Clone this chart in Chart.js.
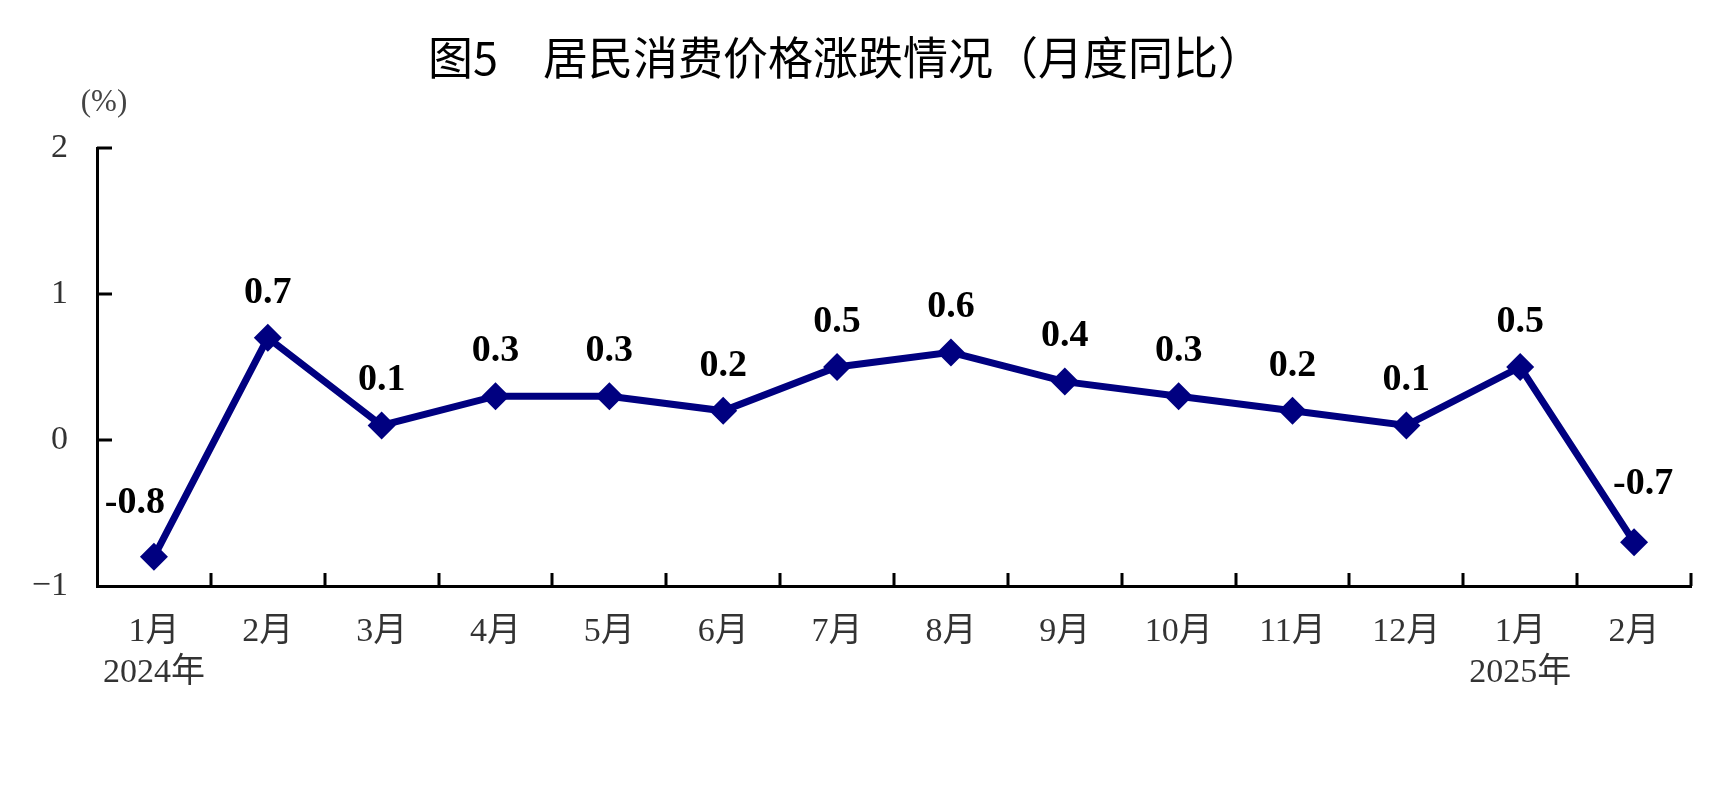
<!DOCTYPE html>
<html>
<head>
<meta charset="utf-8">
<script src="https://cdn.jsdelivr.net/npm/chart.js@4"></script>
<style>
  html, body { margin: 0; padding: 0; background: #fff; }
  #wrap { width: 1734px; height: 805px; position: relative; }
</style>
</head>
<body>
<div id="wrap"><canvas id="cpi"></canvas></div>
<script>
// 居民消费价格 月度同比 (%)
const titleText = '图5\u3000居民消费价格涨跌情况（月度同比）';
const unitText = '(%)';
const months = [
  ['1月', '2024年'], '2月', '3月', '4月', '5月', '6月', '7月',
  '8月', '9月', '10月', '11月', '12月', ['1月', '2025年'], '2月'
];
const cpiValues = [-0.8, 0.7, 0.1, 0.3, 0.3, 0.2, 0.5, 0.6, 0.4, 0.3, 0.2, 0.1, 0.5, -0.7];
const yTicks = [-1, 0, 1, 2];

const serif = '"Liberation Serif", "DejaVu Serif", "Noto Sans CJK SC", serif';
const sans = '"Noto Sans CJK SC", "Noto Sans", sans-serif';

// 标题、单位、刻度线和数据标签
const decorations = {
  id: 'decorations',
  afterDraw(chart) {
    const { ctx, chartArea } = chart;
    const x = chart.scales.x;
    const y = chart.scales.y;
    ctx.save();

    ctx.fillStyle = '#000';
    ctx.font = '45px ' + sans;
    ctx.textAlign = 'left';
    ctx.textBaseline = 'middle';
    ctx.fillText(titleText, 428, 58);

    ctx.fillStyle = '#444';
    ctx.font = '31px ' + serif;
    ctx.textAlign = 'center';
    ctx.fillText(unitText, 104, 103);

    // 向内的刻度线
    ctx.strokeStyle = '#000';
    ctx.lineWidth = 3;
    ctx.beginPath();
    yTicks.forEach(v => {
      if (v === y.min) return;
      const py = Math.round(y.getPixelForValue(v));
      ctx.moveTo(chartArea.left, py);
      ctx.lineTo(chartArea.left + 15, py);
    });
    for (let i = 1; i <= months.length; i++) {
      const px = Math.round(x.getPixelForValue(i - 0.5));
      ctx.moveTo(px, chartArea.bottom);
      ctx.lineTo(px, chartArea.bottom - 13);
    }
    ctx.stroke();

    // 数据标签
    const meta = chart.getDatasetMeta(0);
    ctx.fillStyle = '#000';
    ctx.font = 'bold 38px ' + serif;
    ctx.textAlign = 'center';
    meta.data.forEach((pt, i) => {
      let dx = 0, dy = -45;
      if (i === 0) { dx = -19; dy = -54; }
      if (i === meta.data.length - 1) { dx = 9; dy = -58; }
      ctx.fillText(cpiValues[i].toFixed(1), pt.x + dx, pt.y + dy);
    });
    ctx.restore();
  }
};

new Chart(document.getElementById('cpi'), {
  type: 'line',
  data: {
    labels: months,
    datasets: [{
      data: cpiValues,
      borderColor: '#000080',
      backgroundColor: '#000080',
      borderWidth: 7,
      pointStyle: 'rectRot',
      pointRadius: 14,
      pointBorderWidth: 0,
      tension: 0
    }]
  },
  options: {
    responsive: true,
    maintainAspectRatio: false,
    animation: false,
    layout: { padding: { top: 148, right: 43, left: 0, bottom: 0 } },
    plugins: {
      legend: { display: false },
      title: { display: false },
      tooltip: { enabled: false }
    },
    scales: {
      x: {
        offset: true,
        grid: { display: false, drawTicks: false },
        border: { display: true, color: '#000', width: 3 },
        ticks: {
          color: '#333',
          font: { family: serif, size: 34 },
          padding: 26,
          maxRotation: 0,
          autoSkip: false
        },
        afterFit(scale) { scale.height = 219; }
      },
      y: {
        min: -1,
        max: 2,
        grid: { display: false, drawTicks: false },
        border: { display: true, color: '#000', width: 3 },
        ticks: {
          stepSize: 1,
          color: '#333',
          font: { family: serif, size: 34 },
          padding: 29,
          callback: v => (v < 0 ? '\u2212' + Math.abs(v) : String(v))
        },
        afterFit(scale) { scale.width = 97; }
      }
    }
  },
  plugins: [decorations]
});
</script>
</body>
</html>
